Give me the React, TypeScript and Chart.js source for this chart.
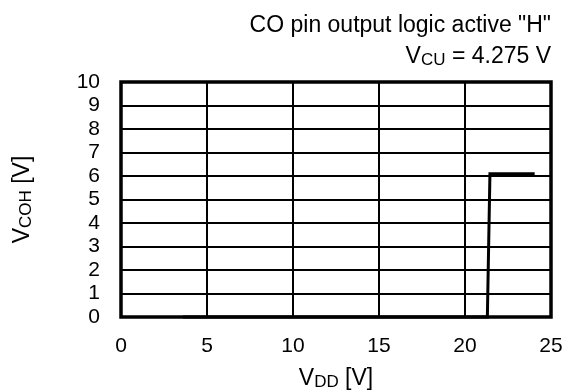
import { useEffect, useRef } from "react";
import { Chart, registerables } from "chart.js";

Chart.register(...registerables);

// Measured CO pin output voltage versus supply voltage
const vdd = [3.6, 21.3, 21.45, 24.05];
const vcoh = [0, 0, 6.1, 6.1];

const xMin = 0;
const xMax = 25;
const xStep = 5;
const yMin = 0;
const yMax = 10;
const yStep = 1;

const titleLine1 = 'CO pin output logic active "H"';
const titleLine2 = [
  { text: "V", sub: false },
  { text: "CU", sub: true },
  { text: " = 4.275 V", sub: false },
];
const xTitle = [
  { text: "V", sub: false },
  { text: "DD", sub: true },
  { text: " [V]", sub: false },
];
const yTitle = [
  { text: "V", sub: false },
  { text: "COH", sub: true },
  { text: " [V]", sub: false },
];

const FONT = '"Liberation Sans", Arial, Helvetica, sans-serif';
const TITLE_SIZE = 23;
const TICK_SIZE = 21;
const SUB_SIZE = 17;

type Part = { text: string; sub: boolean };

function partFont(p: Part) {
  return `${p.sub ? SUB_SIZE : TITLE_SIZE}px ${FONT}`;
}

// Draws a run of text with subscript parts; x is the anchor for the given alignment
function drawRich(
  ctx: CanvasRenderingContext2D,
  parts: Part[],
  x: number,
  y: number,
  align: "left" | "center" | "right"
) {
  let total = 0;
  const widths = parts.map((p) => {
    ctx.font = partFont(p);
    const w = ctx.measureText(p.text).width;
    total += w;
    return w;
  });
  let cx = align === "left" ? x : align === "center" ? x - total / 2 : x - total;
  ctx.textAlign = "left";
  ctx.textBaseline = "alphabetic";
  parts.forEach((p, i) => {
    ctx.font = partFont(p);
    ctx.fillText(p.text, cx, y + (p.sub ? 2 : 0));
    cx += widths[i];
  });
}

const annotations = {
  id: "annotations",
  afterDraw(chart: Chart) {
    const { ctx, chartArea } = chart;
    const { left, right, top, bottom } = chartArea;
    ctx.save();

    // plot frame
    ctx.strokeStyle = "#000";
    ctx.lineWidth = 3.5;
    ctx.strokeRect(left, top, right - left, bottom - top);

    ctx.fillStyle = "#000";
    // header lines, right aligned
    ctx.font = `${TITLE_SIZE}px ${FONT}`;
    ctx.textAlign = "right";
    ctx.textBaseline = "alphabetic";
    ctx.fillText(titleLine1, right, 32);
    drawRich(ctx, titleLine2, right, 63, "right");

    // x axis title
    drawRich(ctx, xTitle, (left + right) / 2, 385, "center");

    // y axis title, rotated
    ctx.save();
    ctx.translate(29, (top + bottom) / 2);
    ctx.rotate(-Math.PI / 2);
    drawRich(ctx, yTitle, 0, 0, "center");
    ctx.restore();

    ctx.restore();
  },
};

export default function App() {
  const canvasRef = useRef<HTMLCanvasElement | null>(null);

  useEffect(() => {
    const canvas = canvasRef.current;
    if (!canvas) return;
    const chart = new Chart(canvas, {
      type: "scatter",
      data: {
        datasets: [
          {
            data: vdd.map((x, i) => ({ x, y: vcoh[i] })),
            showLine: true,
            borderColor: "#000",
            borderWidth: 3,
            pointRadius: 0,
            tension: 0,
            clip: false as any,
          },
        ],
      },
      options: {
        animation: false,
        responsive: false,
        devicePixelRatio: 1,
        layout: { padding: { left: 0, right: 15, top: 82, bottom: 0 } },
        plugins: {
          legend: { display: false },
          tooltip: { enabled: false },
          title: { display: false },
        },
        scales: {
          x: {
            type: "linear",
            min: xMin,
            max: xMax,
            border: { display: false },
            grid: { color: "#000", lineWidth: 2, drawTicks: false },
            ticks: {
              stepSize: xStep,
              autoSkip: false,
              color: "#000",
              padding: 17,
              maxRotation: 0,
              font: { family: FONT, size: TICK_SIZE },
            },
            afterFit(scale: any) {
              scale.height = 75;
              scale.paddingLeft = 0;
              scale.paddingRight = 0;
            },
          },
          y: {
            type: "linear",
            min: yMin,
            max: yMax,
            border: { display: false },
            grid: { color: "#000", lineWidth: 2, drawTicks: false },
            ticks: {
              stepSize: yStep,
              autoSkip: false,
              color: "#000",
              padding: 21,
              font: { family: FONT, size: TICK_SIZE },
            },
            afterFit(scale: any) {
              scale.width = 121;
              scale.paddingTop = 0;
              scale.paddingBottom = 0;
            },
          },
        },
      },
      plugins: [annotations],
    });
    return () => chart.destroy();
  }, []);

  return (
    <div style={{ position: "fixed", left: 0, top: 0, width: 566, height: 392, background: "#fff" }}>
      <canvas ref={canvasRef} width={566} height={392} style={{ display: "block" }} />
    </div>
  );
}
